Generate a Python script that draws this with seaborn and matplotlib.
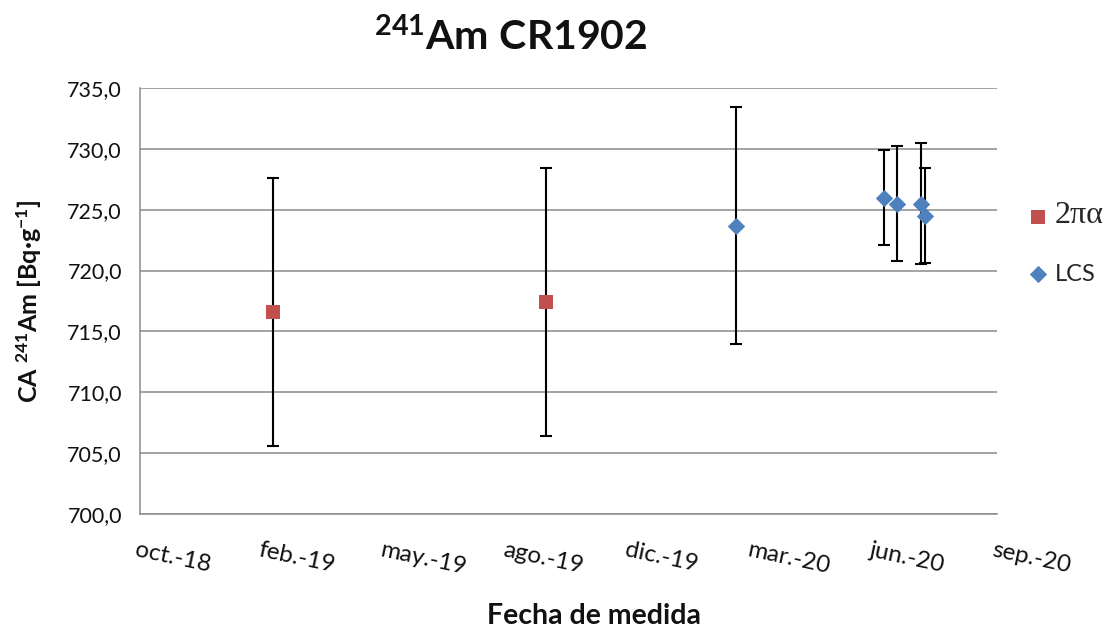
import matplotlib
matplotlib.use("Agg")
import matplotlib.pyplot as plt
import matplotlib.transforms as mtransforms
from matplotlib.ticker import FuncFormatter, MultipleLocator
import pandas as pd
import seaborn as sns

# Measurement data: activity concentration of Am-241 in CR1902
methods = ["2πα", "2πα", "LCS", "LCS", "LCS", "LCS", "LCS"]
dates = ["2019-02-15", "2019-09-26", "2020-02-28", "2020-06-28",
         "2020-07-08", "2020-07-28", "2020-07-31"]
values = [716.6, 717.4, 723.7, 726.0, 725.5, 725.5, 724.5]
errors = [11.0, 11.0, 9.7, 3.9, 4.7, 5.0, 3.9]

# Date axis: ticks every 100 days from the axis start
axis_start = "2018-10-29"
tick_step_days = 100
tick_labels = ["oct.-18", "feb.-19", "may.-19", "ago.-19",
               "dic.-19", "mar.-20", "jun.-20", "sep.-20"]

df = pd.DataFrame({"method": methods, "fecha": pd.to_datetime(dates),
                   "valor": values, "u": errors})

sns.set_theme(style="white")
plt.rcParams["font.family"] = ["Lato", "DejaVu Sans"]
plt.rcParams["mathtext.fontset"] = "custom"
plt.rcParams["mathtext.rm"] = "Lato"
plt.rcParams["mathtext.bf"] = "Lato:bold"
plt.rcParams["mathtext.it"] = "Lato:italic"

fig = plt.figure(figsize=(11.18, 6.30), dpi=100)
ax = fig.add_axes([140 / 1118, 1 - 514 / 630, 857 / 1118, 426 / 630])

# error bars first, markers on top
ax.errorbar(df["fecha"], df["valor"], yerr=df["u"], fmt="none",
            ecolor="black", elinewidth=1.5, capsize=4.3, capthick=1.5, zorder=2)

styles = {"2πα": ("#C0504D", "s", 100), "LCS": ("#4F81BD", "D", 78)}
for name, (color, marker, size) in styles.items():
    sub = df[df["method"] == name]
    sns.scatterplot(data=sub, x="fecha", y="valor", color=color, marker=marker,
                    s=size, linewidth=0, ax=ax, zorder=3, label=name)

start = pd.Timestamp(axis_start)
ticks = [start + pd.Timedelta(days=tick_step_days * i) for i in range(len(tick_labels))]
ax.set_xlim(ticks[0], ticks[-1])
ax.set_xticks(ticks)
ax.set_xticklabels(tick_labels)

ax.set_ylim(700, 735)
ax.yaxis.set_major_locator(MultipleLocator(5))
ax.yaxis.set_major_formatter(FuncFormatter(lambda v, p: f"{v:.1f}".replace(".", ",")))

ax.grid(axis="y", color="#8a8a8a", linewidth=1.1)
ax.set_axisbelow(True)
for side in ("top", "right"):
    ax.spines[side].set_visible(False)
for side in ("left", "bottom"):
    ax.spines[side].set_color("#8a8a8a")
    ax.spines[side].set_linewidth(1.1)

ax.tick_params(axis="both", which="major", direction="out", length=5,
               width=1.1, color="#8a8a8a", labelcolor="#111111")
ax.tick_params(axis="y", labelsize=15.5, pad=8)
ax.tick_params(axis="x", labelsize=17.5, pad=13)

offset = mtransforms.ScaledTranslation(-2 / 100, 0, fig.dpi_scale_trans)
for lab in ax.get_xticklabels():
    lab.set_rotation(-12)
    lab.set_ha("left")
    lab.set_va("top")
    lab.set_rotation_mode("anchor")
    lab.set_transform(lab.get_transform() + offset)

ax.set_xlabel("Fecha de medida", fontsize=20.5, fontweight="bold", color="#111111")
ax.xaxis.set_label_coords((594 - 140) / 857, (514 - 603) / 426)
ax.set_ylabel(r"CA $\mathbf{^{241}}$Am [Bq·g$\mathbf{^{-1}}$]",
              fontsize=18, fontweight="bold", color="#111111")
ax.yaxis.set_label_coords((44 - 140) / 857, 0.5)

fig.text(511 / 1118, 1 - 50 / 630, r"$\mathbf{^{241}Am\ CR1902}$",
         ha="center", va="baseline", fontsize=29.5, color="#111111")

handles, labels = ax.get_legend_handles_labels()
leg = ax.legend(handles, labels, loc="center left",
                bbox_to_anchor=(1005 / 1118, 1 - 243 / 630),
                bbox_transform=fig.transFigure, frameon=False,
                fontsize=17, labelspacing=1.4, handletextpad=0.2,
                handlelength=1.0, markerscale=1.0)
leg.get_texts()[0].set_fontfamily(["Liberation Serif", "DejaVu Serif"])
leg.get_texts()[0].set_fontsize(23)

fig.savefig("out.png", dpi=100)
